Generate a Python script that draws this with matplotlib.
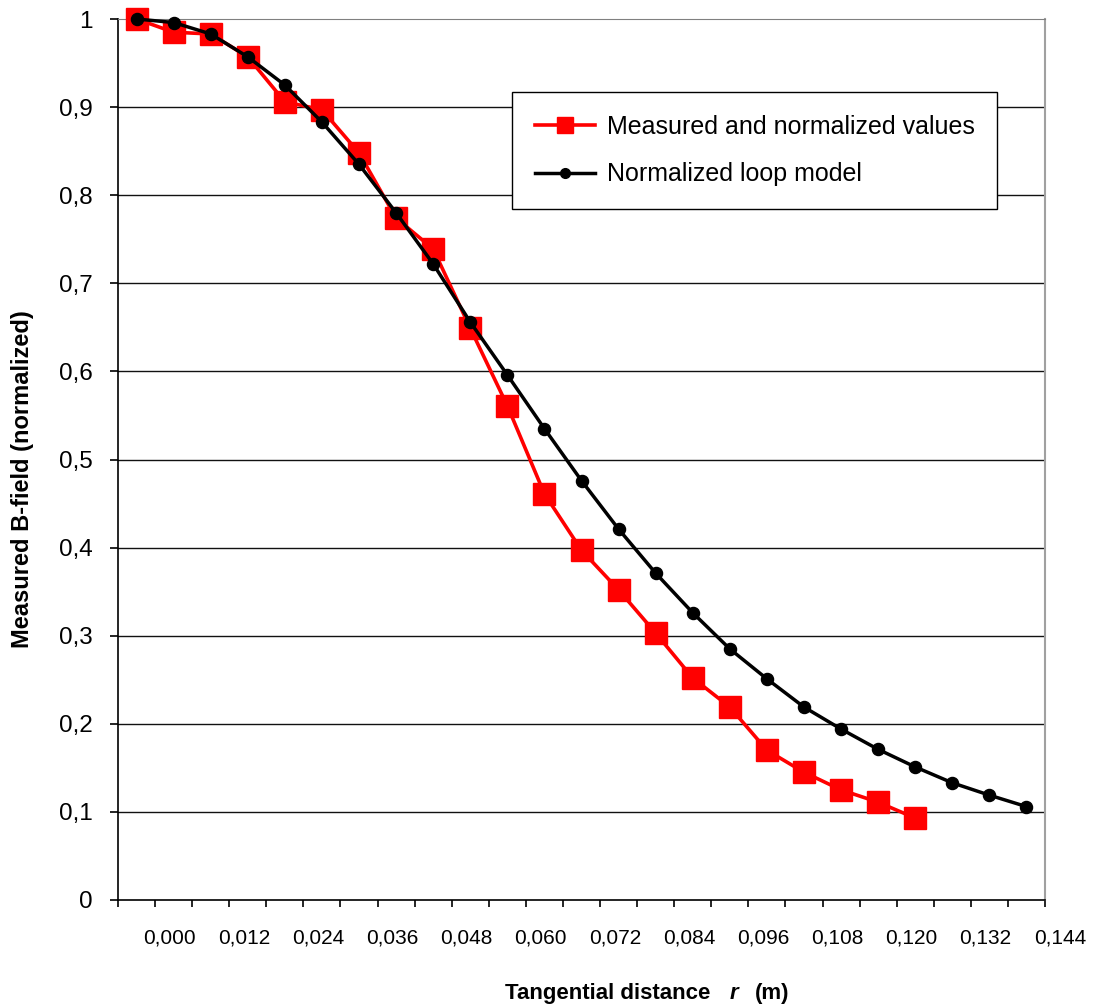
import numpy as np
import matplotlib
matplotlib.use("Agg")
import matplotlib.pyplot as plt
from matplotlib.transforms import blended_transform_factory

plt.rcParams['font.family'] = ['Liberation Sans', 'DejaVu Sans']

# ---- data ----
x_tick_labels = [0.000, 0.012, 0.024, 0.036, 0.048, 0.060, 0.072,
                 0.084, 0.096, 0.108, 0.120, 0.132, 0.144]
measured = [1.000, 0.985, 0.983, 0.957, 0.906, 0.897, 0.848, 0.774, 0.739,
            0.649, 0.561, 0.461, 0.397, 0.352, 0.303, 0.252, 0.219, 0.170,
            0.145, 0.125, 0.111, 0.093]
model = [1.000, 0.996, 0.983, 0.957, 0.925, 0.883, 0.835, 0.780, 0.722,
         0.656, 0.596, 0.535, 0.476, 0.421, 0.371, 0.326, 0.285, 0.251,
         0.219, 0.194, 0.171, 0.151, 0.133, 0.119, 0.106]
y_ticks = [0, 0.1, 0.2, 0.3, 0.4, 0.5, 0.6, 0.7, 0.8, 0.9, 1.0]

W, H = 1093, 1008
fig = plt.figure(figsize=(W / 100, H / 100), dpi=100)
L, R, T, B = 118, 1045, 19, 900
ax = fig.add_axes([L / W, (H - B) / H, (R - L) / W, (B - T) / H])

n_cat = len(model)
x_meas = np.arange(len(measured))
x_model = np.arange(n_cat)

ax.plot(x_meas, measured, color='#FF0000', lw=2.6, marker='s', ms=15.5,
        mec='#FF0000', mfc='#FF0000', clip_on=False, zorder=3,
        label='Measured and normalized values')
ax.plot(x_model, model, color='black', lw=2.5, marker='o', ms=8.7,
        clip_on=False, zorder=4, label='Normalized loop model')

ax.set_xlim(-0.5, n_cat - 0.5)
ax.set_ylim(0, 1)

# grid
for yv in y_ticks[1:-1]:
    ax.axhline(yv, color='#111111', lw=1.0, zorder=1)

# spines
ax.spines['left'].set_color('black')
ax.spines['bottom'].set_color('black')
ax.spines['left'].set_linewidth(1.2)
ax.spines['bottom'].set_linewidth(1.2)
ax.spines['top'].set_color('#808080')
ax.spines['right'].set_color('#a0a0a0')
ax.spines['right'].set_linewidth(1.5)

# y ticks
ax.set_yticks(y_ticks)
ax.set_yticklabels(['0' if v == 0 else ('1' if v == 1 else f"{v:.1f}".replace('.', ','))
                    for v in y_ticks])
ax.tick_params(axis='y', direction='out', length=6, width=1.2, pad=12,
               labelsize=17.5, colors='black')

# x ticks at category boundaries, labels between
ax.set_xticks(np.arange(n_cat + 1) - 0.5)
ax.set_xticklabels([])
ax.tick_params(axis='x', direction='out', length=5, width=1.2)

trans = blended_transform_factory(ax.transData, fig.transFigure)
for k, v in enumerate(x_tick_labels):
    ax.text(1 + 2 * k - 0.1, (H - 943) / H, f"{v:.3f}".replace('.', ','),
            transform=trans, ha='center', va='baseline', fontsize=15,
            clip_on=False)

# axis labels
fig.text(23 / W, (H - 479) / H, 'Measured B-field (normalized)', rotation=90,
         ha='center', va='center', fontsize=17, fontweight='bold')
yb = (H - 999) / H
fig.text(505 / W, yb, 'Tangential distance', ha='left', va='baseline',
         fontsize=16, fontweight='bold')
fig.text(730 / W, yb, 'r', ha='left', va='baseline', fontsize=16,
         fontweight='bold', fontstyle='italic')
fig.text(755 / W, yb, '(m)', ha='left', va='baseline', fontsize=16,
         fontweight='bold')

# legend
leg = ax.legend(loc='upper left', bbox_to_anchor=(512 / W, (H - 92) / H),
                bbox_transform=fig.transFigure, borderaxespad=0,
                fontsize=18, frameon=True, fancybox=False, framealpha=1,
                edgecolor='black', handlelength=2.4, handletextpad=0.5,
                borderpad=0.9, labelspacing=0.95)
leg.get_frame().set_linewidth(1.0)
leg.set_zorder(10)
hs = leg.legend_handles
hs[0].set_markersize(12)
hs[1].set_markersize(7)

fig.savefig('out.png', dpi=100)
